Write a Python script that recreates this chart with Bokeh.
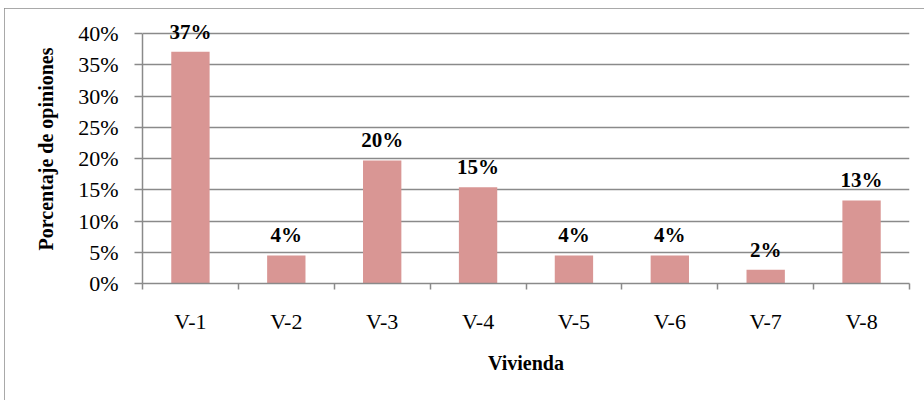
from bokeh.plotting import figure
from bokeh.models import Range1d, FixedTicker, NumeralTickFormatter, ColumnDataSource, LabelSet
from bokeh.embed import file_html
from bokeh.resources import INLINE

categories = ["V-1", "V-2", "V-3", "V-4", "V-5", "V-6", "V-7", "V-8"]
values = [0.371, 0.045, 0.197, 0.154, 0.045, 0.045, 0.022, 0.133]
value_labels = ["37%", "4%", "20%", "15%", "4%", "4%", "2%", "13%"]
y_ticks = [0, 0.05, 0.10, 0.15, 0.20, 0.25, 0.30, 0.35, 0.40]

n = len(categories)
centers = [i + 0.5 for i in range(n)]
bounds = [float(i) for i in range(n + 1)]

src = ColumnDataSource(dict(x=centers, top=values, lab=value_labels))

FONT = "Liberation Serif"
GRAY = "#8a8a8a"

# frame extends a little above 40% so the top data label is not clipped
p = figure(width=920, height=392, output_backend="svg", toolbar_location=None,
           x_range=Range1d(0, n), y_range=Range1d(0, 0.4304),
           min_border_left=138, min_border_right=15, min_border_top=6, min_border_bottom=117,
           outline_line_color=None, background_fill_color="white", border_fill_color="white")
p.styles = {"margin-left": "4px", "margin-top": "8px", "box-shadow": "inset 1px 1px 0 #8c8c8c"}

p.vbar(x="x", top="top", width=0.4, source=src, fill_color="#D99694", line_color=None)
labels = LabelSet(x="x", y="top", text="lab", source=src, text_align="center",
                  text_baseline="alphabetic", y_offset=13, text_font=FONT,
                  text_font_style="bold", text_font_size="21px", text_color="black")
p.add_layout(labels)

# x axis
xa = p.xaxis[0]
xa.ticker = FixedTicker(ticks=centers, minor_ticks=bounds)
xa.major_label_overrides = {c: lab for c, lab in zip(centers, categories)}
xa.major_tick_in = 0
xa.major_tick_out = 0
xa.minor_tick_in = 0
xa.minor_tick_out = 6
xa.minor_tick_line_color = GRAY
xa.minor_tick_line_width = 1.5
xa.axis_line_color = GRAY
xa.axis_line_width = 1.5
xa.major_label_text_font = FONT
xa.major_label_text_font_size = "22px"
xa.major_label_text_color = "black"
xa.major_label_standoff = 19
xa.axis_label = "Vivienda"
xa.axis_label_text_font = FONT
xa.axis_label_text_font_style = "bold"
xa.axis_label_text_font_size = "20px"
xa.axis_label_text_color = "black"
xa.axis_label_standoff = 15

# y axis
ya = p.yaxis[0]
ya.ticker = FixedTicker(ticks=y_ticks)
ya.bounds = (0, 0.40)
ya.formatter = NumeralTickFormatter(format="0%")
ya.major_tick_in = 0
ya.major_tick_out = 8
ya.minor_tick_line_color = None
ya.major_tick_line_color = GRAY
ya.major_tick_line_width = 1.5
ya.axis_line_color = GRAY
ya.axis_line_width = 1.5
ya.major_label_text_font = FONT
ya.major_label_text_font_size = "22px"
ya.major_label_text_color = "black"
ya.major_label_standoff = 16
ya.axis_label = "Porcentaje de opiniones"
ya.axis_label_text_font = FONT
ya.axis_label_text_font_style = "bold"
ya.axis_label_text_font_size = "20px"
ya.axis_label_text_color = "black"
ya.axis_label_standoff = 18

p.xgrid.grid_line_color = None
p.ygrid.grid_line_color = GRAY
p.ygrid.grid_line_width = 1.5

open("out.html", "w").write(file_html(p, INLINE))
